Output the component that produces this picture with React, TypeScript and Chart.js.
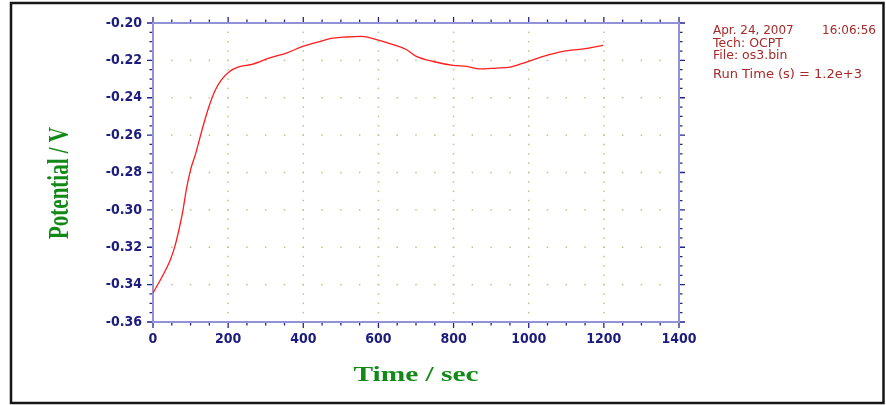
import { useEffect, useRef } from 'react';
import { Chart, registerables } from 'chart.js';

Chart.register(...registerables);

// Open-circuit potential record (time in s, potential in V)
const timeSec = [
  0, 36, 46, 58, 71, 80, 87, 100, 114, 133,
  149, 164, 182, 204, 226, 266, 311, 355, 399, 444,
  471, 515, 555, 595, 639, 675, 701, 746, 799, 835,
  870, 914, 950, 994, 1039, 1092, 1145, 1198,
];
const potentialV = [
  -0.3446, -0.3312, -0.3268, -0.3197, -0.3089, -0.3, -0.2911, -0.2786, -0.2696, -0.2554,
  -0.2447, -0.2366, -0.2304, -0.2259, -0.2236, -0.222, -0.2187, -0.2161, -0.2125, -0.2099,
  -0.2084, -0.2075, -0.2072, -0.2089, -0.2116, -0.2143, -0.2179, -0.2206, -0.2227, -0.2232,
  -0.2246, -0.2241, -0.2236, -0.2209, -0.2179, -0.2152, -0.2139, -0.212,
];

// Axis ranges and tick spacing
const xRange = [0, 1400];
const xSteps = [200, 50]; // major, minor
const yRange = [-0.36, -0.2];
const ySteps = [0.02, 0.005];

const xTitle = 'Time / sec';
const yTitle = 'Potential / V';
const runDate = 'Apr. 24, 2007';
const runClock = '16:06:56';
const runInfo = ['Tech: OCPT', 'File: os3.bin'];
const runTime = 'Run Time (s) = 1.2e+3';

const AXIS_LINE = 'rgb(146,146,216)';
const AXIS_TICK = 'rgb(36,36,140)';
const GRID_DOT = 'rgb(184,200,140)';
const TICK_LABEL = '#1c1c7e';
const TITLE_GREEN = '#138a18';
const INFO_RED = '#a52a2a';

function valuesBetween(min: number, max: number, step: number): number[] {
  const n = Math.round((max - min) / step);
  const out: number[] = [];
  for (let k = 0; k <= n; k++) out.push(min + k * step);
  return out;
}

const frameAndGrid = {
  id: 'frameAndGrid',
  beforeDatasetsDraw(chart: any) {
    const { ctx, chartArea: a, scales } = chart;
    const x = scales.x;
    const y = scales.y;
    const xMajor = valuesBetween(xRange[0], xRange[1], xSteps[0]);
    const xMinor = valuesBetween(xRange[0], xRange[1], xSteps[1]);
    const yMajor = valuesBetween(yRange[0], yRange[1], ySteps[0]);
    const yMinor = valuesBetween(yRange[0], yRange[1], ySteps[1]);

    ctx.save();
    // dotted grid: rows at major y, columns at major x
    ctx.fillStyle = GRID_DOT;
    yMajor.slice(1, -1).forEach((v) => {
      const py = y.getPixelForValue(v);
      xMinor.slice(1, -1).forEach((t) => {
        const px = x.getPixelForValue(t);
        ctx.fillRect(px - 0.75, py - 0.75, 1.5, 1.5);
      });
    });
    xMajor.slice(1, -1).forEach((t) => {
      const px = x.getPixelForValue(t);
      yMinor.slice(1, -1).forEach((v) => {
        const py = y.getPixelForValue(v);
        ctx.fillRect(px - 0.75, py - 0.75, 1.5, 1.5);
      });
    });

    // tick marks on all four sides, pointing outward
    ctx.strokeStyle = AXIS_TICK;
    ctx.lineWidth = 1.3;
    ctx.beginPath();
    xMinor.forEach((t, i) => {
      const px = x.getPixelForValue(t);
      const len = i % 4 === 0 ? 6 : 3.5;
      ctx.moveTo(px, a.bottom);
      ctx.lineTo(px, a.bottom + len);
      ctx.moveTo(px, a.top);
      ctx.lineTo(px, a.top - len);
    });
    yMinor.forEach((v, i) => {
      const py = y.getPixelForValue(v);
      const len = i % 4 === 0 ? 6 : 3.5;
      ctx.moveTo(a.left, py);
      ctx.lineTo(a.left - len, py);
      ctx.moveTo(a.right, py);
      ctx.lineTo(a.right + len, py);
    });
    ctx.stroke();

    // axis box
    ctx.strokeStyle = AXIS_LINE;
    ctx.lineWidth = 2;
    ctx.strokeRect(a.left, a.top, a.right - a.left, a.bottom - a.top);
    ctx.restore();
  },
  afterDraw(chart: any) {
    const { ctx, chartArea: a, width, height } = chart;
    ctx.save();

    // axis titles (wide bold serif)
    ctx.fillStyle = TITLE_GREEN;
    ctx.font = "bold 21px 'Liberation Serif'";
    ctx.textAlign = 'center';
    ctx.textBaseline = 'alphabetic';
    ctx.save();
    ctx.translate((a.left + a.right) / 2, 381);
    ctx.scale(1.4, 1);
    ctx.fillText(xTitle, 0, 0);
    ctx.restore();

    ctx.save();
    ctx.translate(68, 183);
    ctx.scale(1.4, 1);
    ctx.rotate(-Math.PI / 2);
    ctx.fillText(yTitle, 0, 0);
    ctx.restore();

    // run information block
    ctx.fillStyle = INFO_RED;
    ctx.font = "12px 'DejaVu Sans'";
    ctx.textAlign = 'left';
    ctx.fillText(runDate, 713, 34);
    ctx.fillText(runClock, 822, 34);
    ctx.font = "12.5px 'DejaVu Sans'";
    runInfo.forEach((line, i) => ctx.fillText(line, 713, 46.5 + i * 12.3));
    ctx.font = "13px 'DejaVu Sans'";
    ctx.fillText(runTime, 713, 77.5);

    // outer frame
    ctx.strokeStyle = '#161616';
    ctx.lineWidth = 2.5;
    ctx.strokeRect(11, 3, width - 13.5, height - 5);
    ctx.restore();
  },
};

export default function App() {
  const canvasRef = useRef<HTMLCanvasElement | null>(null);

  useEffect(() => {
    const canvas = canvasRef.current;
    if (!canvas) return;
    const points = timeSec.map((t, i) => ({ x: t, y: potentialV[i] }));
    const tickFont = { family: "'DejaVu Sans Condensed', 'DejaVu Sans'", size: 14, weight: 'bold' as const };

    const chart = new Chart(canvas, {
      type: 'line',
      data: {
        datasets: [
          {
            data: points,
            borderColor: '#ff1c1c',
            borderWidth: 1.3,
            pointRadius: 0,
            cubicInterpolationMode: 'monotone',
            fill: false,
          },
        ],
      },
      options: {
        responsive: false,
        animation: false,
        layout: { padding: { left: 0, top: 23, right: 207, bottom: 0 } },
        plugins: {
          legend: { display: false },
          tooltip: { enabled: false },
        },
        scales: {
          x: {
            type: 'linear',
            min: xRange[0],
            max: xRange[1],
            border: { display: false },
            grid: { display: false, drawTicks: false, tickLength: 0 },
            ticks: {
              stepSize: xSteps[0],
              color: TICK_LABEL,
              font: tickFont,
              padding: 9,
              maxRotation: 0,
              callback: (v: any) => String(v),
            },
            afterFit: (s: any) => {
              s.height = 83;
            },
          },
          y: {
            type: 'linear',
            min: yRange[0],
            max: yRange[1],
            border: { display: false },
            grid: { display: false, drawTicks: false, tickLength: 0 },
            ticks: {
              stepSize: ySteps[0],
              color: TICK_LABEL,
              font: tickFont,
              padding: 11,
              callback: (v: any) => Number(v).toFixed(2),
            },
            afterFit: (s: any) => {
              s.width = 153;
            },
          },
        },
      },
      plugins: [frameAndGrid],
    });

    return () => chart.destroy();
  }, []);

  return (
    <div style={{ position: 'fixed', left: 0, top: 0, width: 886, height: 405, background: '#fff' }}>
      <canvas ref={canvasRef} width={886} height={405} />
    </div>
  );
}
